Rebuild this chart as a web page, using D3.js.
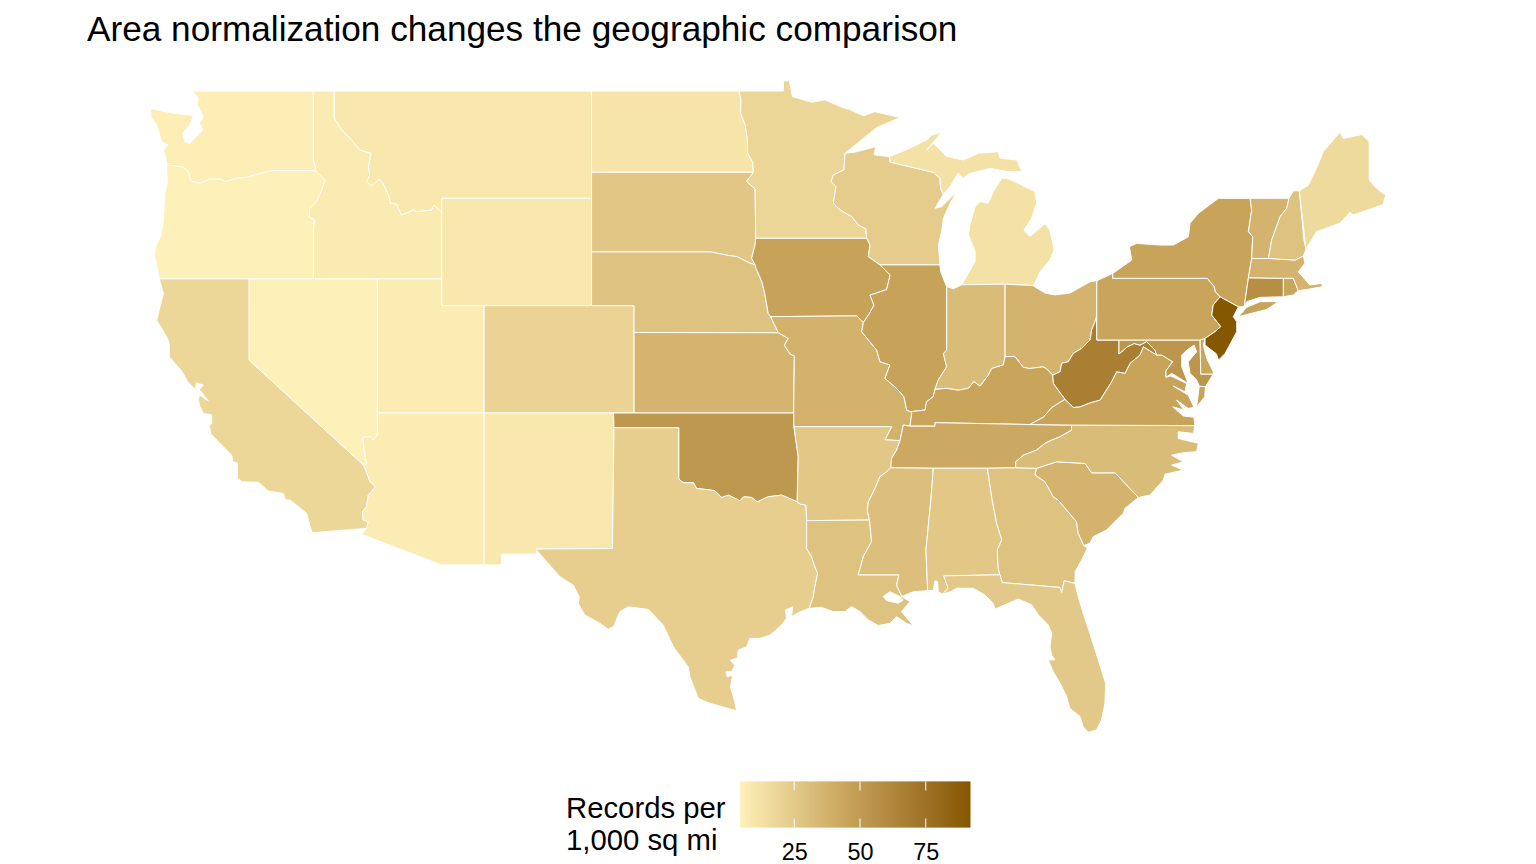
<!DOCTYPE html>
<html>
<head>
<meta charset="utf-8">
<script src="https://cdnjs.cloudflare.com/ajax/libs/d3/7.8.5/d3.min.js"></script>
<style>
  html, body { margin: 0; padding: 0; background: #fff; }
  svg { display: block; }
  text { font-family: "Liberation Sans", Arial, sans-serif; fill: #000; }
</style>
</head>
<body>
<svg id="map" width="1536" height="864"></svg>
<script>
// Chart text and legend values
const chartTitle = 'Area normalization changes the geographic comparison';
const legendLines = ['Records per', '1,000 sq mi'];
const legendTicks = [25, 50, 75];
const valueStops = [4.4, 46, 92];
const colorStops = ['#fef1b9', '#c7a259', '#855700'];

// Shared borders in [lon, lat], written once so neighbouring states line up
const waCoast = [[-122.53,49],[-122.25,48.73],[-122.3,48.48],[-122.1,48.17],[-122.02,48.04],[-122.2,47.8],[-122.05,47.55],[-122.33,47.3],[-122.64,47.05],[-122.87,47.11],[-122.98,47.42],[-122.64,47.73],[-122.48,48.1],[-122.95,48.13],[-123.41,48.17],[-124.03,48.27],[-124.46,48.35],[-124.45,48.04],[-124.18,47.73],[-123.95,47.11],[-123.64,46.99],[-123.87,46.8],[-123.72,46.37],[-123.72,46.24]];
const waOr = [[-123.72,46.24],[-123.25,46.2],[-122.95,46.16],[-122.71,45.99],[-122.61,45.65],[-122.17,45.56],[-121.71,45.72],[-121.17,45.71],[-121.02,45.62],[-120.47,45.75],[-120.01,45.78],[-119.47,45.91],[-118.85,46.03],[-116.81,46.03]];
const waId = [[-116.92,49],[-116.92,46.42],[-116.85,46.25],[-116.81,46.03]];
const orCoast = [[-123.72,46.24],[-123.69,45.56],[-123.8,45.19],[-123.87,44.19],[-123.99,43.57],[-124.18,43.32],[-124.31,42.89],[-124.18,42.52],[-124.06,42]];
const orId = [[-116.81,46.03],[-116.38,45.68],[-116.53,45.31],[-116.77,44.88],[-117.08,44.63],[-117.11,44.32],[-116.85,44.19],[-116.91,43.88],[-116.91,42]];
const idMt = [[-115.95,49],[-115.95,47.98],[-115.6,47.55],[-115.22,47.24],[-114.76,46.8],[-114.25,46.68],[-114.37,46.12],[-114.29,45.87],[-114.45,45.62],[-114.22,45.46],[-113.86,45.72],[-113.68,45.56],[-113.4,45.06],[-113.34,44.81],[-113.06,44.79],[-112.83,44.38],[-112.25,44.57],[-112.13,44.5],[-111.44,44.57],[-111.33,44.75],[-110.97,44.5]];
const caCoast = [[-124.06,42],[-123.87,41.46],[-124.18,40.46],[-123.72,39.84],[-123.6,39.6],[-123.6,39.1],[-123,38.54],[-122.75,38.17],[-122.4,37.88],[-122.33,38.13],[-122.02,38.04],[-122.2,37.88],[-121.79,37.45],[-122.2,37.67],[-122.25,37.48],[-122.17,37.23],[-122.02,36.99],[-121.63,36.93],[-121.63,36.61],[-121.74,36.55],[-121.68,36.24],[-121.25,35.87],[-120.7,35.43],[-120.66,35.19],[-120.44,35.13],[-120.43,34.57],[-120.24,34.44],[-119.47,34.42],[-119,34.09],[-118.31,34],[-118.2,33.76],[-118,33.76],[-117.23,33.26],[-117.07,32.77],[-116.97,32.54]];
const caNv = [[-119.89,42],[-119.89,38.97],[-114.57,35.04]];
const caAz = [[-114.57,35.04],[-114.29,34.44],[-114.03,34.25],[-114.37,33.94],[-114.45,33.51],[-114.64,33.32],[-114.6,33.01],[-114.37,32.95],[-114.45,32.7]];
const nvAz = [[-113.95,37],[-113.95,36.18],[-114.14,35.99],[-114.29,36.12],[-114.63,36.09],[-114.57,35.62],[-114.45,35.12],[-114.57,35.04]];
const redRiver = [[-97.18,49],[-97.09,48.67],[-97.11,48.17],[-96.9,47.74],[-96.8,47.24],[-96.78,46.68],[-96.55,46.35],[-96.52,45.97]];
const sdMn = [[-96.52,45.97],[-96.83,45.63],[-96.44,45.35],[-96.41,43.51]];
const sdIa = [[-96.41,43.51],[-96.44,43.27],[-96.6,42.77],[-96.44,42.52]];
const sdNe = [[-96.44,42.52],[-96.67,42.58],[-97.29,42.83],[-97.6,42.86],[-98.5,43],[-104.02,43]];
const neIa = [[-96.44,42.52],[-96.4,42.4],[-96.13,41.9],[-96.03,41.58],[-95.98,41.4],[-95.83,40.71],[-95.72,40.59]];
const neMo = [[-95.72,40.59],[-95.36,39.99]];
const ksMo = [[-95.36,39.99],[-94.9,39.78],[-95.08,39.53],[-94.82,39.2],[-94.62,39.13],[-94.65,37]];
const okMo = [[-94.65,37],[-94.64,36.49]];
const okAr = [[-94.64,36.49],[-94.44,35.37],[-94.49,33.69]];
const okTx = [[-99.98,34.54],[-99.77,34.4],[-99.3,34.4],[-99.15,34.19],[-98.53,34.13],[-98.3,34.1],[-97.99,33.85],[-97.68,33.94],[-97.37,33.82],[-97.14,33.73],[-96.96,33.88],[-96.6,33.85],[-96.34,33.69],[-95.83,33.88],[-95.21,33.94],[-94.49,33.69]];
const txAr = [[-94.49,33.69],[-94.33,33.6],[-94.08,33.57],[-94.05,32.99]];
const txLa = [[-94.05,32.99],[-94.05,31.95],[-93.82,31.64],[-93.67,31.27],[-93.54,31.02],[-93.67,30.53],[-93.74,30.15],[-93.93,29.72]];
const txCoast = [[-93.93,29.72],[-94.36,29.59],[-94.75,29.41],[-94.7,29.78],[-95.03,29.66],[-94.98,29.35],[-95.21,29.1],[-95.75,28.72],[-96.22,28.6],[-96.68,28.6],[-96.83,28.29],[-97.22,28.16],[-97.27,27.86],[-97.58,27.79],[-97.38,27.6],[-97.53,27.36],[-97.79,27.36],[-97.73,27.17],[-97.48,27.23],[-97.58,26.8],[-97.38,26.24],[-97.3,25.9],[-97.68,25.99],[-98.53,26.18],[-99.07,26.36],[-99.46,27.17],[-99.54,27.54],[-100.23,28.29],[-100.7,29.1],[-101.39,29.68],[-102.32,29.78],[-102.71,29.59],[-103,29.04],[-103.25,28.94],[-103.63,29.16],[-104.33,29.47],[-104.64,29.9],[-104.59,30.15],[-104.87,30.59],[-105.49,30.9],[-106.1,31.46],[-106.57,31.89]];
const mnNorth = [[-97.18,49],[-95.13,49],[-95.13,49.38],[-94.85,49.38],[-94.71,48.79],[-93.81,48.58],[-93.2,48.67],[-92.5,48.42],[-92.04,48.3],[-91.42,48.08],[-90.88,48.23],[-89.72,48.01],[-90.8,47.64],[-91.42,47.24],[-92.27,46.68]];
const mnWi = [[-92.27,46.68],[-92.32,46.06],[-92.81,45.87],[-92.92,45.63],[-92.69,45.44],[-92.81,44.82],[-92.5,44.57],[-91.96,44.32],[-91.65,44.01],[-91.3,43.86],[-91.27,43.51]];
const iaWi = [[-91.27,43.51],[-91.11,43.27],[-91.19,42.83],[-90.65,42.52]];
const iaIl = [[-90.65,42.52],[-90.18,42.15],[-90.34,41.6],[-91.11,41.39],[-90.93,41.02],[-91.14,40.71],[-91.42,40.37]];
const iaMo = [[-95.72,40.59],[-91.73,40.62],[-91.42,40.37]];
const moIl = [[-91.42,40.37],[-91.5,40.03],[-90.8,39.34],[-90.65,38.91],[-90.19,38.79],[-90.42,38.29],[-89.88,37.92],[-89.54,37.61],[-89.41,37.1],[-89.21,37.05]];
const ilKy = [[-89.21,37.05],[-88.56,37.11],[-88.49,37.42],[-88.18,37.61],[-88.1,37.88]];
const ilIn = [[-87.56,41.71],[-87.56,39.34],[-87.71,39.22],[-87.56,38.72],[-87.95,38.23],[-88.1,37.88]];
const inKy = [[-88.1,37.88],[-87.56,37.92],[-87.02,37.85],[-86.55,37.92],[-86.3,38.17],[-86.01,38],[-85.63,38.41],[-85.47,38.66],[-84.93,38.79],[-84.85,39.1]];
const ohKy = [[-82.64,38.41],[-82.95,38.66],[-83.1,38.72],[-83.7,38.66],[-84.01,38.7],[-84.39,39.1],[-84.85,39.1]];
const ohWv = [[-80.6,40.62],[-80.68,40.4],[-80.84,40.09],[-80.91,39.72],[-81.3,39.41],[-81.69,39.22],[-81.92,38.91],[-82.23,38.85],[-82.3,38.54],[-82.64,38.41]];
const kyWv = [[-82.64,38.41],[-82.61,38.1],[-82.07,37.51]];
const kyVa = [[-82.07,37.51],[-82.69,37.2],[-83.08,36.84],[-83.7,36.57]];
const moKy = [[-89.21,37.05],[-89.18,36.98],[-89.26,36.51]];
const kyTn = [[-89.26,36.51],[-88.1,36.51],[-88.1,36.64],[-83.7,36.57]];
const vaTn = [[-83.7,36.57],[-81.77,36.55]];
const moTn = [[-89.26,36.51],[-89.57,36.55],[-89.72,35.97]];
const arTn = [[-89.72,35.97],[-89.88,35.62],[-90.11,35.31],[-90.15,34.96]];
const arMs = [[-90.15,34.96],[-90.34,34.81],[-90.65,34.63],[-90.88,34.19],[-91.19,33.69],[-91.24,33.38],[-91.14,33.01]];
const laMs = [[-91.14,33.01],[-91.04,32.21],[-91.42,31.65],[-91.66,30.97],[-89.77,30.97],[-89.88,30.59],[-89.64,30.16]];
const laCoast = [[-89.64,30.16],[-89.26,29.97],[-89.65,29.6],[-89.11,29.07],[-89.42,29.16],[-89.88,29.41],[-90.19,29.16],[-90.73,29.08],[-91.19,29.29],[-91.58,29.6],[-91.97,29.79],[-92.27,29.6],[-92.82,29.6],[-93.36,29.76],[-93.93,29.72]];
const lakePontchartrain = [[-90.5,30.16],[-90.19,30.34],[-89.72,30.16],[-89.57,30.03],[-89.8,29.91],[-90.34,30.01]];
const msCoast = [[-89.64,30.16],[-89.11,30.34],[-88.44,30.38]];
const msAl = [[-88.18,34.94],[-88.29,33.76],[-88.52,31.9],[-88.44,30.38]];
const alCoast = [[-88.44,30.38],[-88.18,30.38],[-88.1,30.75],[-87.98,30.72],[-87.95,30.34],[-87.75,30.25]];
const flAl = [[-87.75,30.25],[-87.49,30.47],[-87.69,30.93],[-85.09,30.97]];
const alGa = [[-85.67,34.94],[-85.45,33.76],[-85.24,32.89],[-85,32.27],[-85.21,31.9],[-85.17,31.21],[-85.09,30.97]];
const flGa = [[-85.09,30.97],[-84.98,30.68],[-82.31,30.5],[-82.23,30.31],[-82.11,30.75],[-81.61,30.65]];
const flCoast = [[-81.61,30.65],[-81.46,30.16],[-81.23,29.54],[-80.92,28.79],[-80.53,27.8],[-80.19,26.93],[-80.22,26.18],[-80.38,25.56],[-80.61,25.19],[-81,25.1],[-81.23,25.31],[-81.38,25.69],[-81.85,26],[-82,26.43],[-82.3,26.93],[-82.62,27.36],[-82.85,27.8],[-82.54,27.8],[-82.69,27.98],[-82.77,28.3],[-82.69,28.79],[-82.85,29.1],[-83.31,29.48],[-83.62,29.85],[-84.24,30.07],[-84.7,29.91],[-85.32,29.69],[-85.4,29.91],[-85.79,30.22],[-86.33,30.47],[-87.1,30.47],[-87.35,30.35]];
const gaSc = [[-83.39,34.94],[-83.46,34.69],[-83,34.44],[-82.62,33.88],[-82.39,33.76],[-81.54,32.95],[-81.46,32.52],[-81.2,32.06]];
const gaCoast = [[-81.2,32.06],[-81.04,31.96],[-81.3,31.52],[-81.6,31.09],[-81.61,30.65]];
const ncSc = [[-83.39,34.94],[-82.46,35.18],[-81.14,35.12],[-80.84,34.77],[-79.75,34.77],[-78.67,33.85]];
const scCoast = [[-78.67,33.85],[-79.29,33.45],[-79.37,33.26],[-80.15,32.64],[-80.76,32.39],[-80.92,32.15],[-81.2,32.06]];
const tnNc = [[-81.77,36.55],[-81.77,36.36],[-82.31,36.11],[-82.69,35.99],[-83,35.87],[-83.39,35.62],[-84,35.43],[-84.36,35.18],[-84.36,34.96]];
const ncCoast = [[-78.67,33.85],[-78.13,33.94],[-77.51,34.5],[-77.44,34.72],[-76.59,34.87],[-77.13,35.06],[-76.59,35.18],[-77.13,35.43],[-76.59,35.52],[-75.97,35.56],[-75.89,35.87],[-76.82,36.05],[-76.82,36.3],[-76.12,36.24],[-76.05,36.53]];
const vaCoast = [[-76.05,36.53],[-76.09,36.84],[-76.59,36.89],[-77.08,37.23],[-76.56,37.11],[-76.9,37.48],[-76.36,37.17],[-76.09,37.21],[-76.36,37.67],[-77.05,38],[-76.51,37.79],[-76.43,38.1],[-77.17,38.38],[-77.39,38.33]];
const vaShore = [[-75.56,37.98],[-75.85,38],[-75.97,37.23],[-75.6,37.6]];
const mdVa = [[-77.39,38.33],[-77.39,38.57],[-77.08,38.91],[-77.59,39.16],[-77.82,39.16]];
const vaWv = [[-77.82,39.16],[-78.44,39.47],[-78.6,39.16],[-79.06,38.85],[-79.29,38.48],[-79.68,38.54],[-79.91,38.17],[-80.45,37.48],[-80.91,37.38],[-81.38,37.23],[-81.69,37.21],[-82.07,37.51]];
const wvMd = [[-79.57,39.72],[-79.57,39.2],[-79.18,39.47],[-78.86,39.59],[-78.6,39.53],[-78.29,39.66],[-77.9,39.34],[-77.82,39.16]];
const mdShore = [[-75.56,37.98],[-75.85,38],[-75.97,38.23],[-76.28,38.48],[-76.36,38.91],[-75.97,39.28],[-76.09,39.53],[-76.43,39.34],[-76.66,39.16],[-76.66,38.72],[-76.36,38.1],[-76.74,38.29],[-77.13,38.48],[-77.39,38.33]];
const ohLake = [[-84.85,41.8],[-83.57,41.75],[-83,41.47],[-82.54,41.4],[-81.84,41.47],[-80.91,41.89],[-80.6,41.93]];
const wiNorth = [[-92.27,46.68],[-91.81,46.72],[-90.83,46.93],[-90.93,46.62],[-90.21,46.56]];
const wiMi = [[-90.21,46.56],[-90.18,46.35],[-88.18,45.97],[-87.87,45.75],[-87.84,45.38],[-87.71,45.15]];
const wiCoast = [[-87.71,45.15],[-88.1,44.63],[-87.79,44.69],[-87.09,45.25],[-87.4,44.82],[-87.71,44.26],[-87.79,43.76],[-87.94,43.27],[-87.87,42.52]];
const upCoast = [[-90.21,46.56],[-89.41,46.81],[-88.48,47.18],[-88.25,47.36],[-87.79,47.46],[-88.48,46.81],[-88.18,47.05],[-87.94,46.87],[-87.56,46.56],[-86.79,46.43],[-86.09,46.68],[-85.16,46.74],[-85.09,46.5],[-84.31,46.43],[-84.08,46],[-84.78,46],[-85.55,46.12],[-86.55,45.91],[-86.79,45.75],[-87.02,45.94],[-87.4,45.44],[-87.71,45.15]];
const lowerMichigan = [[-86.86,41.78],[-86.24,42.65],[-86.24,43.02],[-86.55,43.64],[-86.48,44.01],[-86.24,44.69],[-86,44.88],[-85.63,44.82],[-85.4,45.25],[-85,45.75],[-84.78,45.75],[-84.24,45.56],[-83.46,45.25],[-83.39,44.82],[-83.62,44.26],[-83.98,43.82],[-83.7,43.58],[-83,44.05],[-82.77,43.82],[-82.58,43.08],[-82.77,42.71],[-83.23,42.27],[-83.46,41.84],[-83.57,41.75],[-84.85,41.8]];
const nyPa = [[-79.86,42.02],[-75.47,42.02],[-75.16,41.71],[-75.1,41.52],[-74.88,41.33]];
const paNj = [[-74.88,41.33],[-75.2,41.03],[-75.27,40.65],[-74.85,40.22],[-75.12,40.03],[-75.58,39.78]];
const nyShore = [[-79.86,42.2],[-78.98,42.7],[-79.09,43.2],[-78.75,43.32],[-77.67,43.26],[-77.05,43.26],[-76.35,43.57],[-76.28,44.07],[-75.89,44.44],[-74.96,45],[-73.49,45]];
const nyVt = [[-73.49,45],[-73.42,44.56],[-73.57,43.76],[-73.37,43.57],[-73.42,42.76]];
const nyMa = [[-73.42,42.76],[-73.57,42.04]];
const nyCt = [[-73.57,42.04],[-73.73,41.15],[-73.77,40.96]];
const longIsland = [[-74.03,40.59],[-73.65,40.94],[-73.03,41.15],[-72.18,41.15],[-72.72,40.86]];
const vtNh = [[-71.69,45],[-71.79,44.63],[-72.1,44.32],[-72.49,43.45],[-72.64,42.76]];
const nhMe = [[-71.21,45.28],[-71,43.45],[-70.9,43.11]];
const meCoast = [[-70.9,43.11],[-70.41,43.76],[-69.33,44.07],[-68.86,44.48],[-68.71,44.38],[-67.32,44.77],[-67.21,45.12],[-67.63,45.37],[-67.97,45.68],[-67.97,47.11],[-68.32,47.38],[-69.17,47.23],[-69.33,47.46],[-70.1,46.74],[-70.38,46.18],[-70.79,45.49],[-71.21,45.28]];

const rev = arc => arc.slice().reverse();

// State names, values (records per 1,000 sq mi) and outlines, in the same order
const stateNames = ['WA','OR','CA','NV','ID','MT','WY','UT','CO','AZ','NM','ND','SD','NE','KS','OK','TX','MN','IA','MO','AR','LA','WI','IL','MI','IN','OH','KY','TN','MS','AL','GA','FL','SC','NC','VA','WV','MD','DE','PA','NJ','NY','CT','RI','MA','VT','NH','ME'];
const recordsPerArea = [6,5,18,5,7.5,9,9,7,20,7,9,11,26.5,29,36,52,22.5,19,46,37.5,26,29,23.5,46,12.5,32,37,44.5,42,30.5,26,29,25,37,32,45,67,53,44,44.5,92,45,58,44,37,37,29,16];
const stateRings = [
  [[...waCoast, ...waOr, ...rev(waId)]],
  [[...waOr, ...orId, [-124.06,42], ...rev(orCoast)]],
  [[...caNv, ...caAz, ...rev(caCoast)]],
  [[[-119.89,42], [-113.95,42], ...nvAz, ...rev(caNv)]],
  [[[-116.92,49], ...idMt, [-110.97,42], [-116.91,42], ...rev(orId), ...rev(waId)]],
  [[[-115.95,49], [-104.02,49], [-104.02,45], [-110.97,45], ...rev(idMt)]],
  [[[-110.97,45], [-104.02,45], [-104.02,41], [-110.97,41]]],
  [[[-113.95,42], [-110.97,42], [-110.97,41], [-109,41], [-109,37], [-113.95,37]]],
  [[[-109,41], [-102.05,41], [-102.05,37], [-109,37]]],
  [[[-113.95,37], [-109,37], [-109,31.34], [-110.97,31.34], [-114.68,32.48], ...rev(caAz), ...rev(nvAz)]],
  [[[-109,37], [-103,37], [-102.98,36.45], [-103.05,31.95], [-106.57,31.93], [-106.57,31.74], [-108.19,31.74], [-108.19,31.34], [-109,31.34]]],
  [[[-104.02,49], ...redRiver, [-104.02,45.97]]],
  [[[-104.02,45.97], ...sdMn, ...sdIa, ...sdNe]],
  [[...rev(sdNe), ...neIa, ...neMo, [-102.05,40], [-102.05,41], [-104.02,41]]],
  [[[-102.05,40], ...ksMo, [-102.05,37]]],
  [[[-103,37], ...okMo, ...okAr, ...rev(okTx), [-99.98,36.45], [-102.98,36.45]]],
  [[[-102.98,36.45], [-99.98,36.45], ...okTx, ...txAr, ...txLa, ...txCoast, [-106.57,31.93], [-103.05,31.95]]],
  [[...mnNorth, ...mnWi, ...rev(sdMn), ...rev(redRiver)]],
  [[[-96.41,43.51], ...iaWi, ...iaIl, ...rev(iaMo), ...rev(neIa), ...rev(sdIa)]],
  [[...iaMo, ...moIl, ...moKy, ...moTn, [-90.42,36], [-90.11,36.49], ...rev(okMo), ...rev(ksMo), ...rev(neMo)]],
  [[[-94.64,36.49], [-90.11,36.49], [-90.42,36], ...arTn, ...arMs, [-94.05,32.99], ...rev(txAr), ...rev(okAr)]],
  [[[-94.05,32.99], ...laMs, ...laCoast, ...rev(txLa)], lakePontchartrain],
  [[...wiNorth, ...wiMi, ...wiCoast, [-90.65,42.52], ...rev(iaWi), ...rev(mnWi)]],
  [[[-90.65,42.52], [-87.87,42.52], [-87.84,42.27], ...ilIn, ...rev(ilKy), ...rev(moIl), ...rev(iaIl)]],
  [upCoast.concat(rev(wiMi)), lowerMichigan],
  [[[-87.56,41.71], [-87.25,41.63], [-86.86,41.78], [-84.85,41.8], [-84.85,39.1], ...rev(inKy), ...rev(ilIn)]],
  [[...ohLake, ...ohWv, ...ohKy]],
  [[...ilKy, ...inKy, ...rev(ohKy), ...kyWv, ...kyVa, ...rev(kyTn), ...rev(moKy)]],
  [[...kyTn, ...vaTn, ...tnNc, [-85.67,34.94], [-88.18,34.94], ...rev(arTn), ...rev(moTn)]],
  [[[-90.15,34.96], ...msAl, ...rev(msCoast), ...rev(laMs), ...rev(arMs)]],
  [[...msAl, ...alCoast, ...flAl, ...rev(alGa)]],
  [[[-85.67,34.94], [-84.36,34.96], ...gaSc, ...gaCoast, ...rev(flGa), ...rev(alGa)]],
  [[...flAl, ...flGa, ...flCoast]],
  [[...ncSc, ...scCoast, ...rev(gaSc)]],
  [[...tnNc, ...ncSc, ...ncCoast]],
  [[...vaTn, ...vaCoast, ...mdVa, ...vaWv, ...kyVa], vaShore],
  [[[-80.6,40.62], [-80.6,39.72], ...wvMd, ...vaWv, ...rev(kyWv), ...rev(ohWv)]],
  [[[-79.57,39.72], [-75.81,39.72], [-75.78,38.45], [-75.2,38.45], ...mdShore, ...mdVa, ...rev(wvMd)]],
  [[[-75.81,39.72], [-75.58,39.78], [-75.66,39.53], [-75.5,39.03], [-75.2,38.54], [-75.2,38.45], [-75.78,38.45]]],
  [[[-80.6,41.93], [-79.86,42.2], ...nyPa, ...paNj, [-75.81,39.72], [-80.6,39.72]]],
  [[...paNj, [-75.58,39.53], [-75.05,39.2], [-74.96,38.97], [-74.65,39.22], [-74.11,40.03], [-74.11,40.4], [-74.27,40.59], [-74.03,40.96]]],
  [[...nyShore, ...nyVt, ...nyMa, ...nyCt, [-74.03,40.96], ...rev(nyPa), [-79.86,42.2]], longIsland],
  [[[-73.57,42.04], [-71.95,42.02], [-71.95,41.33], [-73.03,41.31], [-73.65,41.15], ...rev(nyCt)]],
  [[[-71.95,42.02], [-71.49,42.02], [-71.26,41.56], [-71.49,41.4], [-71.95,41.33]]],
  [[[-73.42,42.76], [-72.64,42.76], [-71.41,42.7], [-71.02,42.85], [-70.95,42.58], [-71.26,42.26], [-70.72,41.77], [-70.18,41.83], [-70.13,41.71], [-70.87,41.6], [-71.26,41.56], [-71.49,42.02], [-71.95,42.02], [-73.57,42.04]]],
  [[[-73.49,45], ...vtNh, ...rev(nyVt)]],
  [[[-71.69,45], [-71.49,45.28], ...nhMe, [-71.02,42.85], [-71.41,42.7], ...rev(vtNh)]],
  [meCoast]
];

// Plain lon/lat placement, stretched in y the way the picture is
const lonScale = d3.scaleLinear().domain([-111, -104]).range([441, 592]);
const latScale = d3.scaleLinear().domain([49, 37]).range([91, 413]);
const color = d3.scaleLinear().domain(valueStops).range(colorStops).interpolate(d3.interpolateLab);

const toPixels = d3.geoTransform({
  point(lon, lat) { this.stream.point(lonScale(lon), latScale(lat)); }
});
const path = d3.geoPath(toPixels);

const features = stateNames.map((name, i) => ({
  type: 'Feature',
  properties: { name, value: recordsPerArea[i] },
  geometry: {
    type: 'MultiPolygon',
    // every ring is its own piece except the lake, evenodd cuts that out
    coordinates: stateRings[i].map(r => [[...r, r[0]]])
  }
}));

const svg = d3.select('#map');

svg.append('text')
  .attr('x', 87).attr('y', 41)
  .attr('font-size', 35.2)
  .text(chartTitle);

svg.append('g')
  .selectAll('path')
  .data(features)
  .join('path')
  .attr('d', path)
  .attr('fill', d => color(d.properties.value))
  .attr('fill-rule', 'evenodd')
  .attr('stroke', '#fff')
  .attr('stroke-width', 1)
  .attr('stroke-linejoin', 'round');

// Legend
const legendX = d3.scaleLinear().domain([valueStops[0], valueStops[2]]).range([740, 970.5]);
const barTop = 781.5, barHeight = 46;

const legend = svg.append('g');
legend.selectAll('rect.step')
  .data(d3.range(0, 230))
  .join('rect')
  .attr('class', 'step')
  .attr('x', i => 740 + i)
  .attr('y', barTop)
  .attr('width', 1.5)
  .attr('height', barHeight)
  .attr('fill', i => color(legendX.invert(740 + i + 0.5)));

legend.selectAll('line.tick-top')
  .data(legendTicks)
  .join('line')
  .attr('x1', legendX).attr('x2', legendX)
  .attr('y1', barTop).attr('y2', barTop + 9)
  .attr('stroke', '#fff');
legend.selectAll('line.tick-bottom')
  .data(legendTicks)
  .join('line')
  .attr('x1', legendX).attr('x2', legendX)
  .attr('y1', barTop + barHeight - 9).attr('y2', barTop + barHeight)
  .attr('stroke', '#fff');

const legendAxis = legend.append('g')
  .attr('transform', `translate(0,${barTop + barHeight})`)
  .call(d3.axisBottom(legendX).tickValues(legendTicks).tickSize(0).tickPadding(15.5));
legendAxis.select('.domain').remove();
legendAxis.selectAll('text').attr('font-size', 23.4).attr('fill', '#000');

legend.selectAll('text.legend-title')
  .data(legendLines)
  .join('text')
  .attr('class', 'legend-title')
  .attr('x', 566)
  .attr('y', (d, i) => 818 + i * 32)
  .attr('font-size', 29.3)
  .text(d => d);
</script>
</body>
</html>
